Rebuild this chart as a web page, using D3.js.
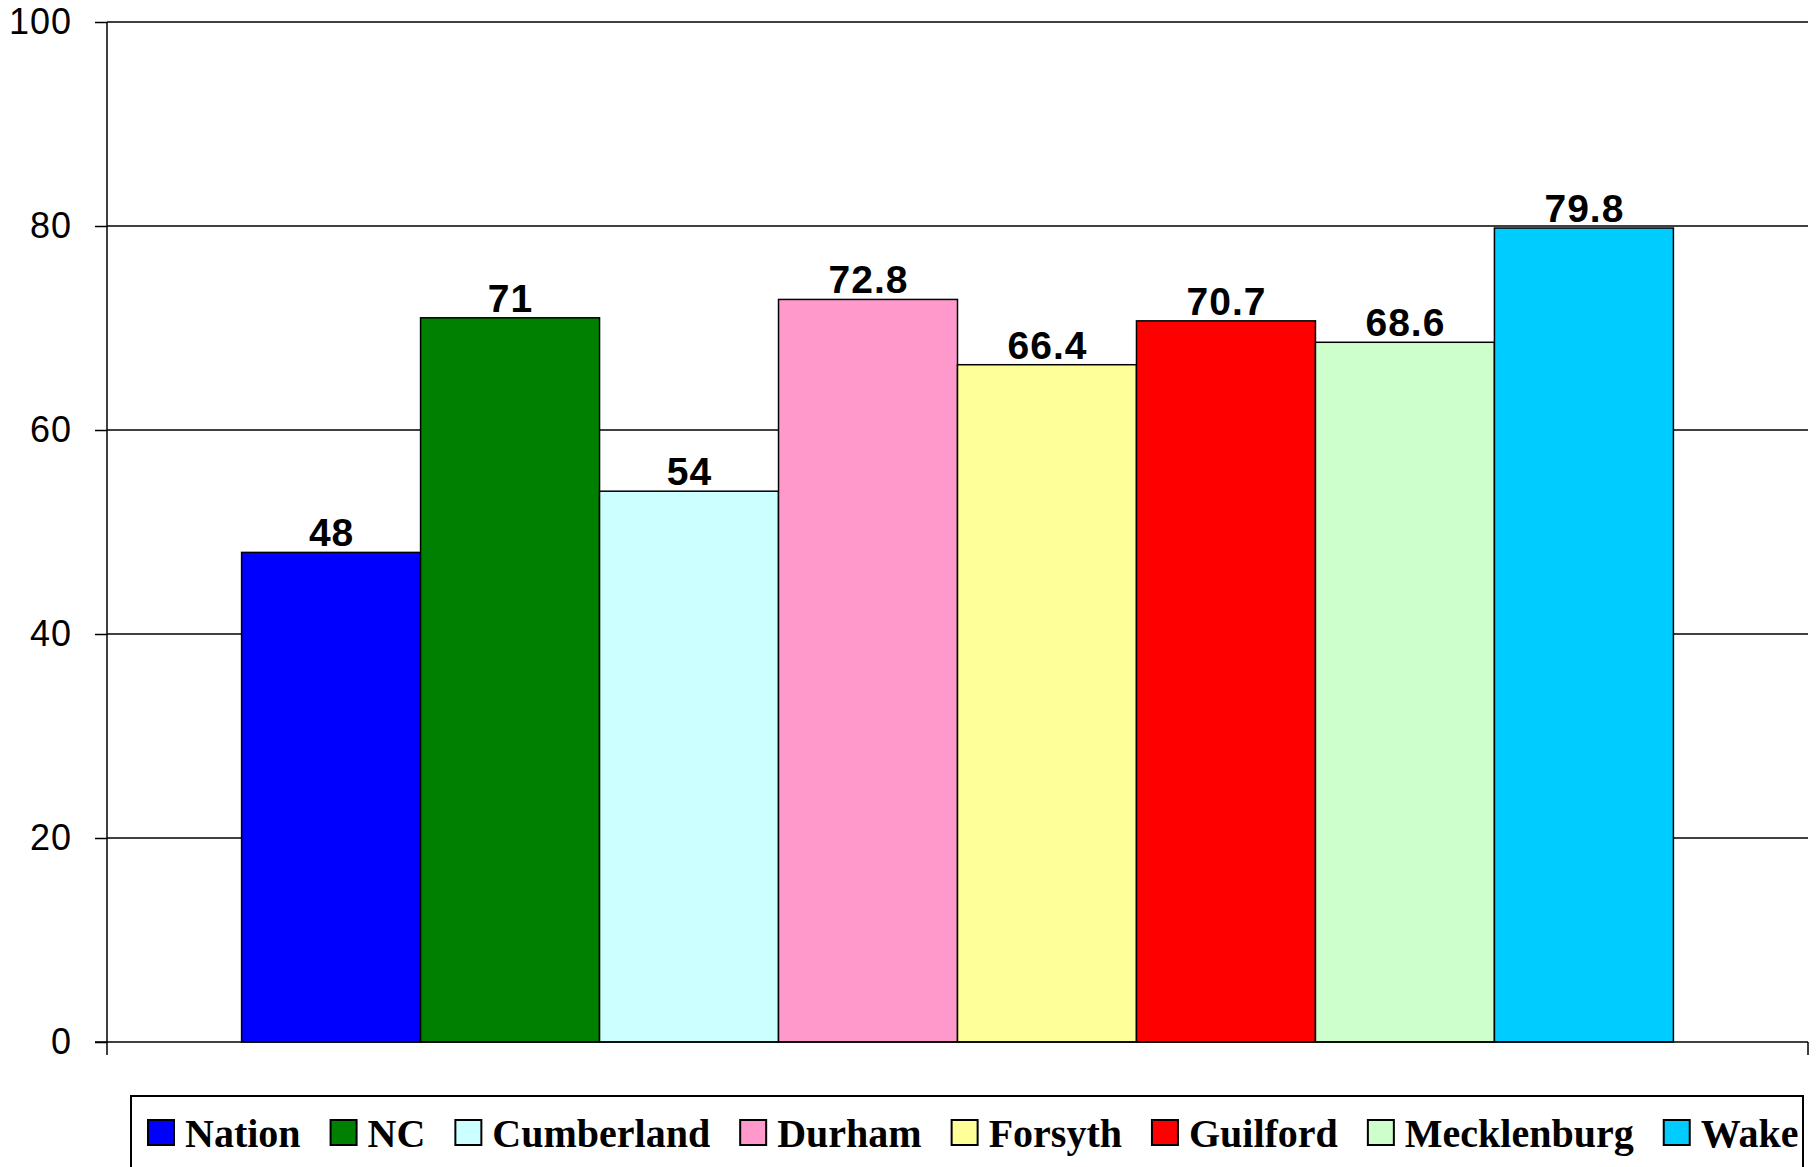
<!DOCTYPE html>
<html><head><meta charset="utf-8">
<script src="https://cdn.jsdelivr.net/npm/d3@7"></script>
<style>html,body{margin:0;padding:0;background:#fff;}</style>
</head><body>
<svg id="chart" width="1816" height="1167"></svg>
<script>
const categories = ["Nation","NC","Cumberland","Durham","Forsyth","Guilford","Mecklenburg","Wake"];
const values = [48, 71, 54, 72.8, 66.4, 70.7, 68.6, 79.8];
const colors = ["#0000FF","#008000","#CCFFFF","#FF99CC","#FFFF99","#FF0000","#CCFFCC","#00CCFF"];
const yTicks = [0, 20, 40, 60, 80, 100];

(function () {
const svg = d3.select("#chart");
const pLeft = 107, pRight = 1808, pTop = 22, pBottom = 1042;

const y = d3.scaleLinear().domain([0, 100]).range([pBottom, pTop]);
const xGroup = d3.scaleBand().domain(["all"]).range([pLeft, pRight]).paddingOuter(0.094).paddingInner(0);
const x = d3.scaleBand().domain(categories)
  .range([xGroup("all"), xGroup("all") + xGroup.bandwidth()]).padding(0);

// gridlines
svg.append("g").selectAll("line").data(yTicks.filter(d => d > 0)).join("line")
  .attr("x1", pLeft).attr("x2", pRight)
  .attr("y1", d => y(d)).attr("y2", d => y(d))
  .attr("stroke", "#000").attr("stroke-width", 1.5);

// y axis
const yAxis = d3.axisLeft(y).tickValues(yTicks).tickSize(12).tickPadding(23).tickSizeOuter(0);
const ya = svg.append("g").attr("transform", `translate(${pLeft},0)`).call(yAxis);
ya.select(".domain").remove();
ya.selectAll(".tick line").attr("stroke", "#000").attr("stroke-width", 1.5);
ya.selectAll(".tick text").attr("font-family", "Liberation Sans, Arial, sans-serif")
  .attr("font-size", 36).attr("letter-spacing", 1).attr("fill", "#000");

// bars
svg.append("g").selectAll("rect").data(values).join("rect")
  .attr("x", (d, i) => x(categories[i]))
  .attr("width", x.bandwidth())
  .attr("y", d => y(d))
  .attr("height", d => y(0) - y(d))
  .attr("fill", (d, i) => colors[i])
  .attr("stroke", "#000").attr("stroke-width", 1.5);

// value labels
svg.append("g").selectAll("text").data(values).join("text")
  .attr("x", (d, i) => x(categories[i]) + x.bandwidth() / 2 + 0.5)
  .attr("y", d => y(d) - 6)
  .attr("text-anchor", "middle")
  .attr("font-family", "Liberation Sans, Arial, sans-serif")
  .attr("font-weight", "bold").attr("font-size", 39).attr("letter-spacing", 1)
  .text(d => d);

// axes lines
svg.append("line").attr("x1", pLeft).attr("x2", pLeft).attr("y1", pTop).attr("y2", pBottom + 13)
  .attr("stroke", "#000").attr("stroke-width", 1.5);
svg.append("line").attr("x1", pLeft - 12).attr("x2", pRight).attr("y1", pBottom).attr("y2", pBottom)
  .attr("stroke", "#000").attr("stroke-width", 1.5);
svg.append("line").attr("x1", pRight).attr("x2", pRight).attr("y1", pBottom).attr("y2", pBottom + 13)
  .attr("stroke", "#000").attr("stroke-width", 1.5);

// legend
const legX = 131, legY = 1096, legW = 1672, legH = 90;
svg.append("rect").attr("x", legX).attr("y", legY).attr("width", legW).attr("height", legH)
  .attr("fill", "#fff").attr("stroke", "#000").attr("stroke-width", 2);
const lg = svg.append("g");
let cx = 148;
categories.forEach((c, i) => {
  lg.append("rect").attr("x", cx).attr("y", 1120).attr("width", 26).attr("height", 25)
    .attr("fill", colors[i]).attr("stroke", "#000").attr("stroke-width", 2);
  const t = lg.append("text").attr("x", cx + 37).attr("y", 1147)
    .attr("font-family", "Liberation Serif, 'Times New Roman', serif")
    .attr("font-weight", "bold").attr("font-size", 40).text(c);
  cx += 37 + t.node().getComputedTextLength() + 30;
});
})();
</script>
</body></html>
